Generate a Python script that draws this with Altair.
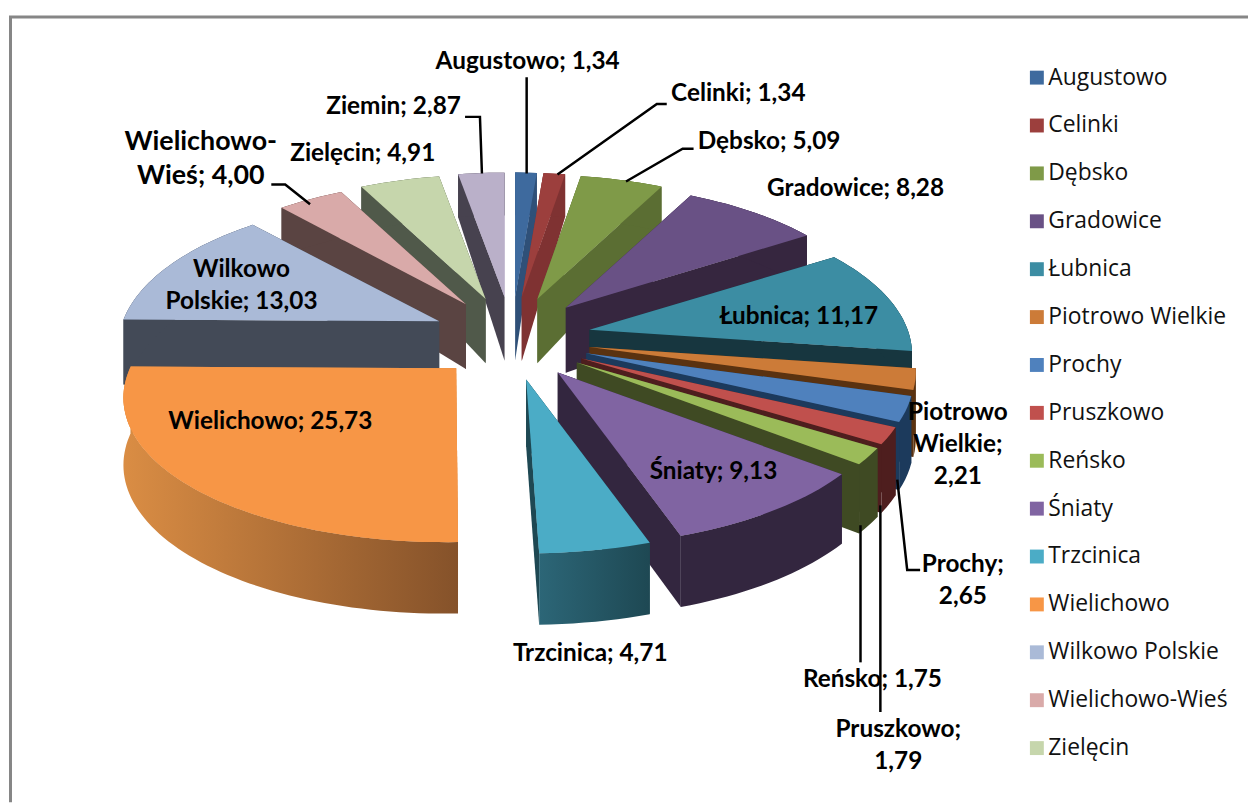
import math
import altair as alt
import numpy as np

names = ["Augustowo", "Celinki", "Dębsko", "Gradowice", "Łubnica", "Piotrowo Wielkie", "Prochy",
         "Pruszkowo", "Reńsko", "Śniaty", "Trzcinica", "Wielichowo", "Wilkowo Polskie",
         "Wielichowo-Wieś", "Zielęcin", "Ziemin"]
values = [1.34, 1.34, 5.09, 8.28, 11.17, 2.21, 2.65, 1.79, 1.75, 9.13, 4.71, 25.73, 13.03, 4.00, 4.91, 2.87]
top_colors = ["#3E6A9E", "#9C3F3D", "#7F9A48", "#695185", "#3C8DA3", "#CC7B38", "#4F81BD", "#C0504D",
              "#9BBB59", "#8064A2", "#4BACC6", "#F79646", "#AABAD7", "#D9AAA9", "#C6D6AC", "#BAB0C9"]
wall_colors = ["#2F5078", "#7F3232", "#5B6E33", "#36263F", "#17363F", "#5A3210", "#1C3A5C", "#4E1E1E",
               "#3F4A23", "#33263F", "#224C58", "#A5652F", "#434A57", "#5A4442", "#50594A", "#47424F"]
legend_names = names[:15]

label_text = {
    "Piotrowo Wielkie": "Piotrowo\nWielkie;\n2,21",
    "Prochy": "Prochy;\n2,65",
    "Pruszkowo": "Pruszkowo;\n1,79",
    "Wilkowo Polskie": "Wilkowo\nPolskie; 13,03",
    "Wielichowo-Wieś": "Wielichowo-\nWieś; 4,00",
}
label_x = [531, 743, 774, 861, 804, 964, 969, 904, 878, 718, 594, 272, 243, 202, 365, 396]
label_y = [60, 92, 140, 188, 316, 413, 566, 732, 682, 472, 656, 422, 269, 140, 152, 105]
label_fs = [24.5] * 13 + [27, 24.5, 24.5]

leaders = [
    [(530, 75), (530, 172)],
    [(561, 173), (661, 102), (671, 102)],
    [(630, 180), (687, 147), (698, 147)],
    [(468, 115), (483, 115), (485, 172)],
    [(273, 183), (287, 183), (312, 203)],
    [(903, 480), (913, 571), (926, 571)],
    [(866, 526), (866, 664)],
    [(886, 506), (886, 714)],
]
frame = [(1256, 14.5), (10.5, 14.5), (10.5, 805)]

CX, CY, EX, EY = 515, 338, 80, 42


def rim(apex, a):
    c, s = math.cos(a), math.sin(a)
    persp = 1 + (apex[1] - CY) * 0.00065
    rx, ry = (322 - 55 * c) * persp, 150 - 25 * c
    shift = min(apex[0] - CX, 0) * 0.2 * max(0.0, -c)
    return (apex[0] + shift + rx * s, apex[1] - ry * c)


def drop(p):
    d = float(np.interp(p[1], [172, 300, 545], [43, 65, 72]))
    return (p[0], p[1] + d)


def feat(ring, color, name=""):
    ring = [list(p) for p in ring]
    if ring[0] != ring[-1]:
        ring.append(ring[0])
    return {"type": "Feature", "geometry": {"type": "Polygon", "coordinates": [ring]},
            "properties": {"color": color, "name": name}}


def line_feat(pts):
    return {"type": "Feature", "geometry": {"type": "LineString", "coordinates": [list(p) for p in pts]},
            "properties": {}}


gradients = {
    "Wielichowo": {"gradient": "linear", "x1": 0, "y1": 0, "x2": 1, "y2": 0,
                   "stops": [{"offset": 0, "color": "#DA8D44"}, {"offset": 1, "color": "#85522A"}]},
    "Trzcinica": {"gradient": "linear", "x1": 0, "y1": 0, "x2": 1, "y2": 0,
                  "stops": [{"offset": 0, "color": "#2C6677"}, {"offset": 1, "color": "#1E4853"}]},
}

slices = []
acc = 0.0
total = sum(values)
for n, v, tc, wc in zip(names, values, top_colors, wall_colors):
    a0 = acc / total * 2 * math.pi
    acc += v
    a1 = acc / total * 2 * math.pi
    mid = (a0 + a1) / 2
    apex = (CX + EX * math.sin(mid), CY - EY * math.cos(mid))
    angles = np.linspace(a0, a1, max(3, int((a1 - a0) * 40)))
    edge = [rim(apex, float(a)) for a in angles]
    slices.append(dict(name=n, apex=apex, edge=edge, top=tc, wall=gradients.get(n, wc), mid=mid))

tops = [feat([s["apex"]] + s["edge"], s["top"], s["name"]) for s in slices]

painted = []
for s in sorted(slices, key=lambda q: -math.cos(q["mid"])):
    ap, e = s["apex"], s["edge"]
    flat = s["wall"] if isinstance(s["wall"], str) else wall_colors[names.index(s["name"])]
    if s["name"] == "Wielichowo":
        flat = "#DA8D44"
    if s["name"] == "Trzcinica":
        flat = "#1E4853"
    side0 = feat([ap, e[0], drop(e[0]), drop(ap)], flat)
    side1 = feat([ap, e[-1], drop(e[-1]), drop(ap)], flat)
    outer = feat(e + [drop(p) for p in reversed(e)], s["wall"])
    faces = sorted([(side0, e[0][1]), (side1, e[-1][1])], key=lambda t: t[1])
    painted += [faces[0][0], faces[1][0], outer, feat([ap] + e, s["top"])]

labels = []
for i, n in enumerate(names):
    txt = label_text.get(n, f"{n}; {values[i]:.2f}".replace(".", ","))
    labels.append({"lon": label_x[i], "lat": label_y[i], "txt": txt, "fs": label_fs[i]})

proj = dict(type="identity", scale=1, translate=[-8, -8])

legend_layer = alt.Chart(alt.Data(values=tops)).mark_geoshape(strokeWidth=0).encode(
    fill=alt.Fill("properties.name:N", scale=alt.Scale(domain=names, range=top_colors),
                  legend=alt.Legend(orient="none", legendX=1024, legendY=56, title=None, symbolType="square",
                                    symbolSize=196, symbolStrokeWidth=0, labelFontSize=23, labelFont="Open Sans",
                                    labelColor="#111111", labelLimit=400, rowPadding=24.2, labelOffset=0,
                                    values=legend_names)),
).project(**proj)

pie_layer = alt.Chart(alt.Data(values=painted)).mark_geoshape(strokeWidth=0).encode(
    fill=alt.Fill("properties.color:N", scale=None),
).project(**proj)

line_layer = alt.Chart(alt.Data(values=[line_feat(p) for p in leaders])).mark_geoshape(
    filled=False, stroke="black", strokeWidth=2.5).project(**proj)

frame_layer = alt.Chart(alt.Data(values=[line_feat(frame)])).mark_geoshape(
    filled=False, stroke="#868686", strokeWidth=3).project(**proj)


def text_layer(flt, lh):
    return alt.Chart(alt.Data(values=labels)).transform_filter(flt).mark_text(
        font="Lato", fontWeight="bold", lineBreak="\n", lineHeight=lh, align="center", baseline="middle",
        color="black"
    ).encode(
        longitude="lon:Q", latitude="lat:Q", text="txt:N", size=alt.Size("fs:Q", scale=None),
    ).project(**proj)


chart = alt.layer(legend_layer, frame_layer, pie_layer, line_layer,
                  text_layer("datum.fs < 26", 32.5), text_layer("datum.fs >= 26", 35)).properties(
    width=1248, height=797, padding=0, background="white",
    autosize=alt.AutoSizeParams(type="none"),
).configure_view(stroke=None)

chart.save("out.html", embed_options={"renderer": "svg", "actions": False})
